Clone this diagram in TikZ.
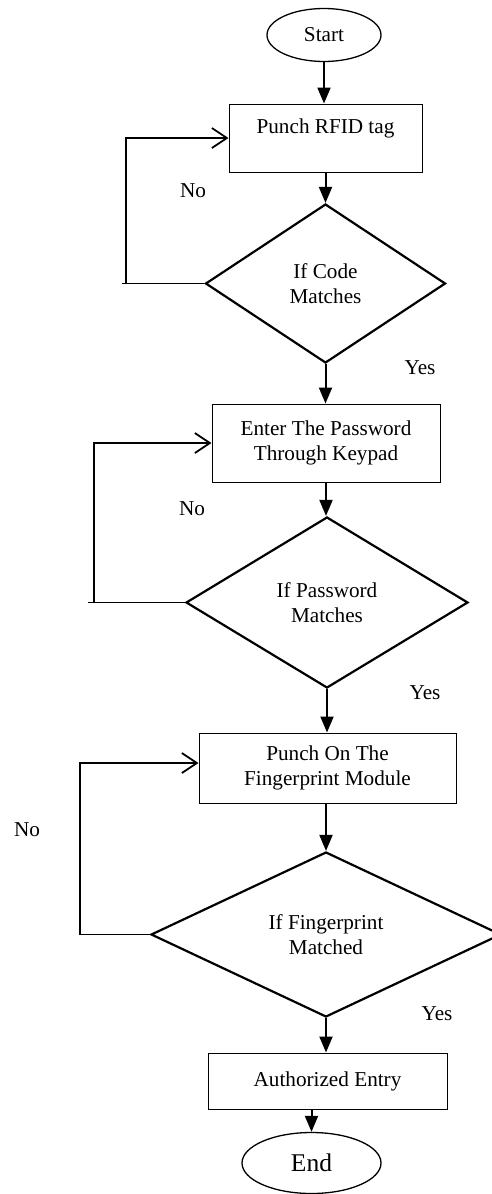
\documentclass[tikz,border=0pt]{standalone}
\usepackage{fontspec}
\setmainfont{Liberation Serif}
\usetikzlibrary{shapes.geometric,arrows.meta}
\begin{document}
\begin{tikzpicture}[x=1pt,y=-1pt,
  every node/.style={font=\fontsize{21.2}{25.4}\selectfont},
  box/.style={draw, line width=1pt, inner sep=0pt, align=center},
  dia/.style={draw, diamond, line width=2.2pt, inner sep=0pt, align=center},
  term/.style={draw, ellipse, line width=1.3pt, inner sep=0pt},
  flow/.style={line width=2pt, -{Triangle[length=16pt,width=13pt]}},
  back/.style={line width=1.4pt},
  backarr/.style={line width=1.4pt, -{Straight Barb[length=15pt,width=20pt,line width=1.8pt]}},
  lbl/.style={inner sep=0pt}]
\useasboundingbox (0,0) rectangle (491,1194);

% nodes
\node[term, minimum width=114pt, minimum height=53pt] (s) at (324,35) {Start};
\node[box, minimum width=193pt, minimum height=68pt] (b1) at (325.5,138) {};
\node[lbl] (t1) at (325.5,128) {Punch RFID tag};
\node[dia, minimum width=240pt, minimum height=159pt] (d1) at (325.5,283.5) {If Code\\Matches};
\node[box, minimum width=228pt, minimum height=78pt] (b2) at (326,443) {Enter The Password\\Through Keypad};
\node[dia, minimum width=282pt, minimum height=171pt] (d2) at (327,602.5) {If Password\\Matches};
\node[box, minimum width=257pt, minimum height=70pt] (b3) at (327.5,768) {Punch On The\\Fingerprint Module};
\node[dia, minimum width=350pt, minimum height=165pt] (d3) at (326,934.5) {If Fingerprint\\Matched};
\node[box, minimum width=239pt, minimum height=56pt] (b4) at (327.5,1081) {Authorized Entry};
\node[term, minimum width=139pt, minimum height=61pt, font=\fontsize{25.5}{30}\selectfont] (e) at (311.5,1163) {End};

% labels
\node[lbl] (n1) at (193,191) {No};
\node[lbl] (y1) at (420,368) {Yes};
\node[lbl] (n2) at (192,509) {No};
\node[lbl] (y2) at (425,693) {Yes};
\node[lbl] (n3) at (27,830) {No};
\node[lbl] (y3) at (437,1014) {Yes};

% main flow
\draw[flow] (s.south) -- (s.south |- b1.north);
\draw[flow] (b1.south) -- (b1.south |- d1.north);
\draw[flow] (d1.south) -- (d1.south |- b2.north);
\draw[flow] (b2.south) -- (b2.south |- d2.north);
\draw[flow] (d2.south) -- (d2.south |- b3.north);
\draw[flow] (d3.north |- b3.south) -- (d3.north);
\draw[flow] (d3.south) -- (d3.south |- b4.north);
\draw[flow] (b4.south -| e.north) -- (e.north);

% loops
\coordinate (c1) at (126,283.5);
\draw[back] (d1.west) -- ([xshift=-4pt]c1);
\draw[backarr] (c1) |- (b1.west);
\coordinate (c2) at (94,602.5);
\draw[back] (d2.west) -- ([xshift=-6pt]c2);
\draw[backarr] (c2) |- (b2.west);
\coordinate (c3) at (80,934.5);
\draw[back] (d3.west) -- (c3);
\draw[backarr] (c3) |- ([yshift=5pt]b3.west);
\end{tikzpicture}
\end{document}
